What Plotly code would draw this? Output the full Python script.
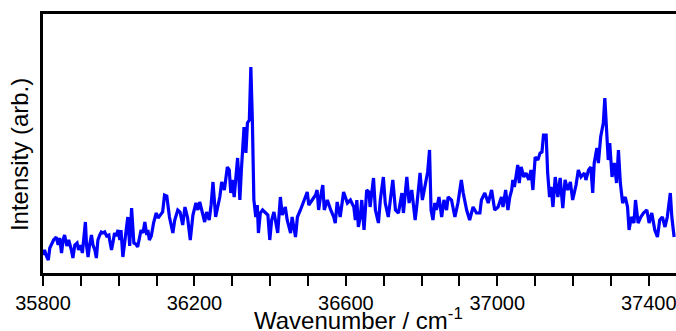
import plotly.graph_objects as go

wavenumber = [
    35800, 35804, 35810, 35814, 35818, 35823, 35828, 35835, 35840, 35844,
    35849, 35853, 35857, 35863, 35868, 35875, 35879, 35884, 35890, 35894,
    35899, 35904, 35908, 35912, 35915, 35919, 35923, 35928, 35932, 35937,
    35941, 35945, 35950, 35954, 35958, 35963, 35968, 35974, 35976, 35981,
    35985, 35989, 35994, 35998, 36003, 36006, 36011, 36016, 36020, 36024,
    36029, 36034, 36040, 36045, 36050, 36055, 36059, 36064, 36069, 36074,
    36077, 36081, 36086, 36092, 36099, 36104, 36110, 36116, 36121, 36127,
    36134, 36139, 36143, 36148, 36156, 36162, 36169, 36175, 36182, 36189,
    36196, 36204, 36209, 36214, 36221, 36227, 36232, 36239, 36244, 36249,
    36256, 36262, 36267, 36272, 36279, 36287, 36292, 36296, 36300, 36305,
    36309, 36314, 36317, 36320, 36324, 36328, 36331, 36336, 36340, 36345,
    36349, 36353, 36357, 36362, 36366, 36369, 36374, 36380, 36387, 36394,
    36399, 36404, 36410, 36415, 36420, 36427, 36432, 36440, 36445, 36454,
    36458, 36467, 36472, 36480, 36487, 36493, 36498, 36502, 36511, 36520,
    36524, 36528, 36533, 36539, 36543, 36551, 36560, 36568, 36572, 36577,
    36585, 36594, 36604, 36612, 36621, 36625, 36629, 36633, 36638, 36642,
    36648, 36655, 36661, 36664, 36673, 36678, 36686, 36691, 36699, 36704,
    36712, 36717, 36724, 36731, 36739, 36748, 36752, 36761, 36767, 36774,
    36779, 36783, 36787, 36796, 36802, 36809, 36816, 36821, 36825, 36830,
    36835, 36839, 36846, 36853, 36859, 36866, 36870, 36879, 36888, 36896,
    36901, 36905, 36910, 36919, 36927, 36936, 36945, 36954, 36958, 36967,
    36976, 36985, 36993, 37002, 37011, 37015, 37022, 37028, 37033, 37038,
    37041, 37045, 37050, 37054, 37058, 37063, 37070, 37076, 37083, 37089,
    37094, 37100, 37107, 37113, 37118, 37122, 37129, 37133, 37138, 37142,
    37147, 37153, 37160, 37166, 37173, 37179, 37186, 37193, 37199, 37208,
    37214, 37221, 37230, 37234, 37241, 37247, 37252, 37256, 37263, 37267,
    37273, 37280, 37284, 37289, 37293, 37297, 37303, 37309, 37315, 37320,
    37325, 37331, 37338, 37344, 37348, 37354, 37361, 37365, 37372, 37379,
    37386, 37395, 37401, 37408, 37416, 37423, 37429, 37436, 37443, 37449,
    37457, 37461, 37467,
]

intensity = [
    18, 23, 16, 13, 25, 29, 33, 36, 28, 35,
    20, 33, 38, 27, 33, 23, 15, 28, 30, 23,
    28, 20, 35, 51, 28, 16, 28, 38, 28, 23,
    15, 33, 38, 41, 40, 41, 37, 38, 33, 23,
    31, 40, 37, 43, 33, 43, 16, 33, 48, 56,
    27, 65, 30, 29, 26, 35, 43, 40, 51, 38,
    43, 33, 37, 50, 60, 55, 58, 61, 78, 77,
    56, 48, 40, 53, 63, 61, 48, 66, 55, 33,
    58, 70, 63, 71, 59, 51, 61, 53, 68, 91,
    56, 68, 76, 91, 83, 106, 103, 80, 93, 76,
    93, 115, 98, 73, 103, 133, 146, 120, 150, 153,
    206, 153, 73, 56, 68, 40, 60, 63, 60, 58,
    33, 53, 61, 50, 40, 76, 58, 66, 53, 40,
    56, 36, 56, 63, 70, 76, 81, 68, 73, 78,
    83, 63, 76, 88, 63, 73, 63, 56, 50, 71,
    56, 81, 70, 73, 66, 53, 73, 46, 56, 73,
    43, 83, 81, 66, 95, 63, 50, 73, 96, 70,
    56, 73, 93, 63, 60, 80, 60, 96, 70, 83,
    63, 53, 66, 100, 73, 86, 101, 123, 63, 53,
    70, 63, 76, 56, 73, 63, 76, 73, 56, 70,
    86, 93, 80, 63, 53, 66, 60, 60, 73, 80,
    70, 83, 63, 66, 76, 66, 83, 63, 76, 83,
    93, 86, 98, 108, 90, 106, 96, 100, 93, 103,
    83, 116, 113, 120, 121, 138, 138, 100, 76, 86,
    66, 96, 76, 95, 65, 93, 83, 91, 73, 88,
    103, 96, 100, 93, 103, 106, 80, 110, 125, 110,
    136, 150, 175, 143, 113, 130, 96, 110, 90, 123,
    90, 70, 76, 66, 43, 56, 50, 73, 50, 56,
    60, 63, 50, 60, 43, 36, 53, 56, 46, 56,
    80, 56, 36,
]

x_range = [35800, 37472]
y_range = [0, 259]
major_ticks = [35800, 36200, 36600, 37000, 37400]
major_labels = ["35800", "36200", "36600", "37000", "37400"]
x_title = "Wavenumber / cm<sup>-1</sup>"
y_title = "Intensity (arb.)"

font_family = "Arial, Liberation Sans, Helvetica, sans-serif"

fig = go.Figure()
fig.add_trace(go.Scatter(
    x=wavenumber, y=intensity, mode="lines",
    line=dict(color="#0000FF", width=3.2),
    showlegend=False, hoverinfo="skip",
))

fig.update_layout(
    width=676, height=331,
    margin=dict(l=43, r=0, t=14, b=58),
    paper_bgcolor="white", plot_bgcolor="white",
    font=dict(family=font_family, size=20, color="black"),
)

fig.update_xaxes(
    range=x_range, showgrid=False, zeroline=False, automargin=False,
    showline=True, linecolor="black", linewidth=2.5, mirror=True,
    ticks="outside", ticklen=10, tickwidth=2, tickcolor="black",
    tickvals=major_ticks, ticktext=major_labels,
    ticklabeloverflow="allow",
    tickfont=dict(size=20, family=font_family, color="black"),
    minor=dict(dtick=100, tick0=35800, ticks="outside", ticklen=10,
               tickwidth=2, tickcolor="black", showgrid=False),
)

fig.update_yaxes(
    range=y_range, showgrid=False, zeroline=False, automargin=False,
    showline=True, linecolor="black", linewidth=2.5,
    ticks="", showticklabels=False,
)

fig.add_annotation(
    text=x_title, xref="paper", yref="paper",
    x=0.498, y=-0.178, xanchor="center", yanchor="middle",
    showarrow=False, font=dict(size=24, family=font_family, color="black"),
)
fig.add_annotation(
    text=y_title, xref="paper", yref="paper",
    x=-0.036, y=0.456, xanchor="center", yanchor="middle", textangle=-90,
    showarrow=False, font=dict(size=24, family=font_family, color="black"),
)

fig.write_html(
    "out.html",
    config={"displayModeBar": False},
    post_script="document.body.style.margin='0';document.body.style.overflow='hidden';",
)
